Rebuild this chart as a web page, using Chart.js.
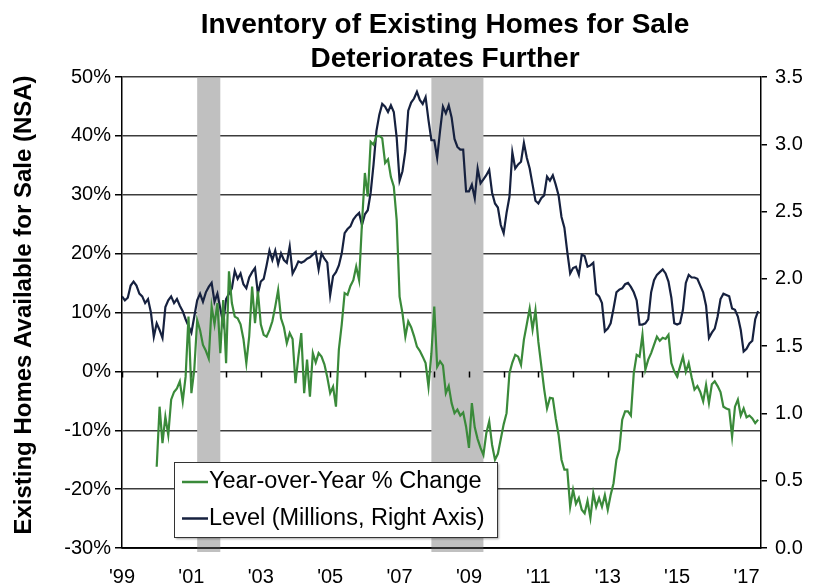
<!DOCTYPE html>
<html>
<head>
<meta charset="utf-8">
<title>Inventory of Existing Homes for Sale</title>
<script src="https://cdn.jsdelivr.net/npm/chart.js@4.4.1/dist/chart.umd.min.js"></script>
<style>
  html, body { margin: 0; padding: 0; background: #fff; }
</style>
</head>
<body>
<canvas id="myChart" width="819" height="584"></canvas>
<script>
// DATOS

const startYear = 1999; // first month of the level series is Jan 1999

// Level of existing homes for sale, millions, monthly Jan 1999 - May 2017
const levelData = [
  1.87, 1.84, 1.86, 1.95, 1.98, 1.95, 1.89, 1.87, 1.82, 1.85, 1.75, 1.57,
  1.67, 1.62, 1.56, 1.79, 1.84, 1.87, 1.82, 1.85, 1.80, 1.76, 1.70, 1.65,
  1.60, 1.72, 1.84, 1.89, 1.83, 1.90, 1.94, 1.97, 1.83, 1.89, 1.78, 1.67,
  1.85, 1.89, 1.93, 2.06, 2.00, 2.04, 1.96, 1.93, 2.01, 2.05, 2.08, 1.89,
  1.98, 2.00, 2.10, 2.21, 2.14, 2.21, 2.11, 2.19, 2.14, 2.12, 2.24, 2.04,
  2.08, 2.13, 2.12, 2.13, 2.15, 2.16, 2.18, 2.20, 2.07, 2.19, 2.15, 2.12,
  1.88, 2.02, 2.05, 2.10, 2.19, 2.34, 2.37, 2.39, 2.44, 2.47, 2.49, 2.40,
  2.48, 2.51, 2.64, 2.85, 3.10, 3.22, 3.30, 3.28, 3.24, 3.29, 3.24, 3.05,
  2.73, 2.80, 2.95, 3.25, 3.31, 3.34, 3.39, 3.33, 3.30, 3.35, 3.18, 3.03,
  3.03, 2.90, 3.10, 3.28, 3.23, 3.29, 3.20, 3.04, 2.98, 2.96, 2.96, 2.65,
  2.65, 2.70, 2.60, 2.82, 2.71, 2.74, 2.77, 2.81, 2.64, 2.56, 2.53, 2.40,
  2.34, 2.49, 2.61, 2.94, 2.82, 2.85, 2.87, 3.01, 2.90, 2.82, 2.70, 2.58,
  2.56, 2.60, 2.62, 2.76, 2.73, 2.77, 2.70, 2.62, 2.46, 2.38, 2.20, 2.04,
  2.08, 2.09, 2.03, 2.18, 2.17, 2.09, 2.10, 2.12, 1.89, 1.87, 1.82, 1.61,
  1.63, 1.67, 1.78, 1.90, 1.92, 1.93, 1.96, 1.97, 1.94, 1.90, 1.84, 1.66,
  1.66, 1.67, 1.70, 1.90, 1.99, 2.03, 2.05, 2.07, 2.04, 1.98, 1.86, 1.67,
  1.66, 1.67, 1.77, 1.97, 2.03, 2.01, 2.01, 2.00, 1.95, 1.90, 1.80, 1.56,
  1.60, 1.63, 1.72, 1.85, 1.89, 1.88, 1.87, 1.78, 1.77, 1.72, 1.62, 1.46,
  1.48, 1.52, 1.54, 1.70, 1.76
];

// Year-over-year % change, monthly Jan 2000 - May 2017
const yoyData = [
  -16.2, -6.0, -12.2, -7.7, -10.8, -4.8, -3.5, -2.9, -1.7, -5.1, -0.9, 9.3,
  -3.7, 0.3, 8.7, 7.0, 4.5, 3.5, 2.2, 11.0, 8.0, 11.6, 3.1, 12.1,
  1.4, 17.0, 11.6, 9.3, 9.0, 8.0, 5.5, 1.4, 6.0, 14.4, 8.2, 13.6,
  8.0, 6.2, 5.9, 7.0, 8.5, 11.0, 13.8, 9.0, 7.5, 4.8, 6.5, 5.5,
  -2.0, 2.5, 6.5, -3.7, 2.0, -4.3, 3.1, 1.5, 3.1, 2.5, 1.2, -1.0,
  -3.7, -2.6, -6.0, 3.7, 8.0, 13.3, 13.0, 14.5, 15.5, 17.8, 15.5, 25.2,
  33.7, 29.7, 39.0, 38.5, 39.9, 40.0, 39.6, 35.4, 36.0, 33.0, 31.4, 25.7,
  12.7, 9.9, 5.9, 8.5, 7.5, 6.0, 4.2, 3.5, 2.5, 1.4, -2.6, 3.0,
  11.0, 0.8, 1.7, 1.0, -3.7, -2.5, -5.4, -7.1, -6.5, -7.5, -7.0, -9.4,
  -13.0, -5.4, -9.5, -11.5, -13.0, -14.2, -10.5, -8.5, -12.5, -15.0, -14.0, -11.5,
  -9.0, -7.1, -0.3, 1.5, 2.8, 2.5, 1.1, 5.4, 8.0, 10.7, 7.1, 10.4,
  5.0, 1.0, -3.0, -6.3, -4.5, -4.6, -8.0, -10.8, -15.0, -16.7, -16.7, -23.0,
  -20.1, -22.5, -21.5, -23.5, -24.1, -22.0, -24.9, -20.7, -23.0, -21.5, -23.0, -21.0,
  -23.5, -21.0, -19.0, -15.0, -13.3, -8.2, -6.8, -6.8, -7.5, -0.3, 2.8, 2.5,
  6.2, 0.3, 2.0, 3.1, 4.5, 5.9, 5.2, 5.7, 5.5, 6.2, 1.4, 0.0,
  -0.9, 0.8, 2.5, -0.1, 1.4, -1.0, -3.1, -2.5, -3.5, -5.1, -2.3, -5.4,
  -2.2, -1.7, -2.5, -3.5, -6.0, -6.3, -6.5, -11.1, -6.0, -4.8, -7.5, -6.3,
  -7.8, -7.5, -8.0, -8.8, -8.2
];

const tickYears = [1999, 2001, 2003, 2005, 2007, 2009, 2011, 2013, 2015, 2017];
const tickLabels = ["'99", "'01", "'03", "'05", "'07", "'09", "'11", "'13", "'15", "'17"];

// Recessions (Mar-Nov 2001, Dec 2007-Jun 2009) as decimal years
const recessions = [
  [2001 + 2 / 12, 2001 + 10 / 12],
  [2007 + 11 / 12, 2009 + 5 / 12]
];

const titleLines = ['Inventory of Existing Homes for Sale', 'Deteriorates Further'];
const yTitle = 'Existing Homes Available for Sale (NSA)';

const fontFamily = '"Liberation Sans", Arial, Helvetica, sans-serif';
Chart.defaults.font.family = fontFamily;
Chart.defaults.color = '#000';

// puntos {x, y} a partir de los arreglos mensuales
const levelPoints = levelData.map((v, i) => ({ x: startYear + i / 12, y: v }));
const yoyPoints = yoyData.map((v, i) => ({ x: startYear + 1 + i / 12, y: v }));

// Barras grises de recesion + marcas de anios en la linea de 0%
const recessionBands = {
  id: 'recessionBands',
  beforeDatasetsDraw(chart) {
    const { ctx, chartArea, scales } = chart;
    const x = scales.x, y = scales.y;
    ctx.save();
    ctx.fillStyle = '#c0c0c0';
    recessions.forEach(([a, b]) => {
      const x1 = x.getPixelForValue(a);
      const x2 = x.getPixelForValue(b);
      ctx.fillRect(x1, chartArea.top + 1, x2 - x1, chartArea.bottom - chartArea.top + 3);
    });
    ctx.strokeStyle = '#000';
    ctx.lineWidth = 1.5;
    ctx.beginPath();
    ctx.moveTo(chartArea.left, chartArea.bottom);
    ctx.lineTo(chartArea.right, chartArea.bottom);
    ctx.stroke();

    const y0 = y.getPixelForValue(0);
    ctx.beginPath();
    for (let yr = startYear; yr <= tickYears[tickYears.length - 1]; yr++) {
      const px = Math.round(x.getPixelForValue(yr)) + 0.5;
      ctx.moveTo(px, y0);
      ctx.lineTo(px, y0 + 6);
    }
    ctx.stroke();
    ctx.restore();
  }
};

// Leyenda con caja dentro del area del grafico
const boxLegend = {
  id: 'boxLegend',
  afterDatasetsDraw(chart) {
    const { ctx, chartArea } = chart;
    const left = chartArea.left + 52;
    const top = chartArea.bottom - 86;
    const w = 323, h = 75;
    ctx.save();
    ctx.shadowColor = 'rgba(0,0,0,0.35)';
    ctx.shadowOffsetX = 2;
    ctx.shadowOffsetY = 2;
    ctx.shadowBlur = 2;
    ctx.fillStyle = '#fff';
    ctx.fillRect(left, top, w, h);
    ctx.shadowColor = 'transparent';
    ctx.strokeStyle = '#333';
    ctx.lineWidth = 1;
    ctx.strokeRect(left + 0.5, top + 0.5, w, h);

    ctx.font = '23.5px ' + fontFamily;
    ctx.textBaseline = 'middle';
    ctx.textAlign = 'left';
    chart.data.datasets.forEach((ds, i) => {
      const yy = top + 20 + i * 36.5;
      ctx.strokeStyle = ds.borderColor;
      ctx.lineWidth = 2.5;
      ctx.beginPath();
      ctx.moveTo(left + 8, yy);
      ctx.lineTo(left + 34, yy);
      ctx.stroke();
      ctx.fillStyle = '#000';
      ctx.fillText(ds.label, left + 35, yy);
    });
    ctx.restore();
  }
};

// Titulo y titulo del eje izquierdo
const titles = {
  id: 'titles',
  afterDraw(chart) {
    const { ctx } = chart;
    ctx.save();
    ctx.fillStyle = '#000';
    ctx.textAlign = 'center';
    ctx.textBaseline = 'alphabetic';
    ctx.font = 'bold 28px ' + fontFamily;
    ctx.fillText(titleLines[0], 445, 33);
    ctx.fillText(titleLines[1], 445, 67);

    ctx.translate(24, 305);
    ctx.rotate(-Math.PI / 2);
    ctx.font = 'bold 24px ' + fontFamily;
    ctx.textBaseline = 'middle';
    ctx.fillText(yTitle, 0, 0);
    ctx.restore();
  }
};

const ctx = document.getElementById('myChart').getContext('2d');
const myChart = new Chart(ctx, {
  type: 'line',
  data: {
    datasets: [
      {
        label: 'Year-over-Year % Change',
        data: yoyPoints,
        yAxisID: 'y',
        borderColor: '#3a8a3a',
        borderWidth: 2.2,
        pointRadius: 0,
        tension: 0
      },
      {
        label: 'Level (Millions, Right Axis)',
        data: levelPoints,
        yAxisID: 'y1',
        borderColor: '#16213f',
        borderWidth: 2.2,
        pointRadius: 0,
        tension: 0
      }
    ]
  },
  options: {
    responsive: false,
    animation: false,
    layout: { padding: { top: 77, left: 0, right: 0, bottom: 0 } },
    plugins: {
      legend: { display: false },
      tooltip: { enabled: false },
      title: { display: false }
    },
    scales: {
      x: {
        type: 'linear',
        min: startYear,
        max: 2017 + 5 / 12,
        grid: { display: false },
        border: { display: true, color: '#000', width: 1.5 },
        ticks: {
          autoSkip: false,
          maxRotation: 0,
          padding: 9,
          font: { size: 20 },
          callback: (v) => {
            const i = tickYears.indexOf(v);
            return i >= 0 ? tickLabels[i] : '';
          }
        },
        afterBuildTicks: (scale) => {
          scale.ticks = tickYears.map((v) => ({ value: v }));
        },
        afterFit: (scale) => { scale.height = 36; }
      },
      y: {
        position: 'left',
        min: -30,
        max: 50,
        ticks: {
          stepSize: 10,
          padding: 4,
          font: { size: 20 },
          callback: (v) => v + '%'
        },
        grid: { color: '#3c3c3c', lineWidth: 1.5, tickLength: 7, tickColor: '#000' },
        border: { display: true, color: '#000', width: 1.5 },
        afterFit: (scale) => { scale.width = 122; }
      },
      y1: {
        position: 'right',
        min: 0,
        max: 3.5,
        ticks: {
          stepSize: 0.5,
          padding: 8,
          font: { size: 20 },
          callback: (v) => v.toFixed(1)
        },
        grid: { drawOnChartArea: false, tickLength: 6, color: '#000', lineWidth: 1.5 },
        border: { display: true, color: '#000', width: 1.5 },
        afterFit: (scale) => { scale.width = 58; }
      }
    }
  },
  plugins: [recessionBands, boxLegend, titles]
});
</script>
</body>
</html>
